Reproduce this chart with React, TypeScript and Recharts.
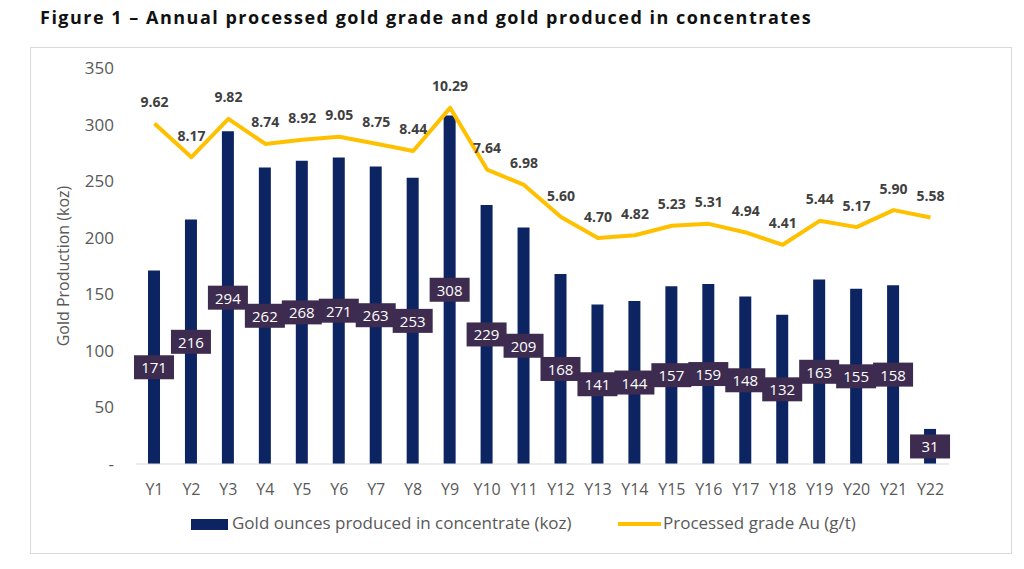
import React from "react";
import {
  ComposedChart,
  Bar,
  Line,
  XAxis,
  YAxis,
  LabelList,
} from "recharts";

const years = [
  "Y1", "Y2", "Y3", "Y4", "Y5", "Y6", "Y7", "Y8", "Y9", "Y10", "Y11",
  "Y12", "Y13", "Y14", "Y15", "Y16", "Y17", "Y18", "Y19", "Y20", "Y21", "Y22",
];
const goldKoz = [
  171, 216, 294, 262, 268, 271, 263, 253, 308, 229, 209,
  168, 141, 144, 157, 159, 148, 132, 163, 155, 158, 31,
];
const gradeAu = [
  9.62, 8.17, 9.82, 8.74, 8.92, 9.05, 8.75, 8.44, 10.29, 7.64, 6.98,
  5.6, 4.7, 4.82, 5.23, 5.31, 4.94, 4.41, 5.44, 5.17, 5.9, 5.58,
];
const kozTicks = [0, 50, 100, 150, 200, 250, 300, 350];

const NAVY = "#0c2461";
const GOLD = "#FFC000";
const FONT = "'Open Sans', sans-serif";

const chartData = years.map((year, i) => ({
  year,
  gold: goldKoz[i],
  grade: gradeAu[i],
}));

const BarValueLabel = (props: any) => {
  const { x, y, width, height, value } = props;
  const cx = x + width / 2;
  const cy = y + height / 2;
  return (
    <g>
      <rect x={cx - 20} y={cy - 12} width={40} height={24} fill="#3d2c4f" />
      <text
        x={cx}
        y={cy}
        fill="#ffffff"
        fontSize={15}
        fontFamily={FONT}
        textAnchor="middle"
        dominantBaseline="central"
      >
        {value}
      </text>
    </g>
  );
};

const GradeLabel = (props: any) => {
  const { x, y, value } = props;
  return (
    <text
      x={x}
      y={y - 22}
      fill="#404040"
      fontSize={14}
      fontWeight={700}
      fontFamily={FONT}
      textAnchor="middle"
      dominantBaseline="central"
    >
      {Number(value).toFixed(2)}
    </text>
  );
};

export default function App() {
  return (
    <div
      style={{
        position: "absolute",
        left: 0,
        top: 0,
        width: 1024,
        height: 569,
        background: "#ffffff",
        fontFamily: FONT,
      }}
    >
      <div
        style={{
          position: "absolute",
          left: 40,
          top: 5,
          fontSize: 18,
          fontWeight: 700,
          letterSpacing: 1.5,
          color: "#111111",
          whiteSpace: "nowrap",
        }}
      >
        Figure 1 – Annual processed gold grade and gold produced in concentrates
      </div>

      <div
        style={{
          position: "absolute",
          left: 30,
          top: 47,
          width: 980,
          height: 505,
          border: "1px solid #d9d9d9",
        }}
      />

      <div style={{ position: "absolute", left: 0, top: 0 }}>
        <ComposedChart
          width={1024}
          height={569}
          data={chartData}
          margin={{ top: 68, right: 75, left: 58, bottom: 75 }}
          barGap={0}
        >
          <XAxis
            dataKey="year"
            stroke="#d9d9d9"
            tickLine={false}
            tickSize={0}
            tickMargin={20}
            interval={0}
            tick={{ fill: "#595959", fontSize: 16, fontFamily: FONT }}
          />
          <YAxis
            yAxisId="koz"
            domain={[0, 350]}
            ticks={kozTicks}
            width={78}
            axisLine={false}
            tickLine={false}
            tickSize={0}
            tickMargin={22}
            tick={{ fill: "#595959", fontSize: 17, fontFamily: FONT }}
            tickFormatter={(v: number) => (v === 0 ? "-" : String(v))}
            label={{
              value: "Gold Production (koz)",
              angle: -90,
              position: "insideLeft",
              offset: 5,
              style: {
                textAnchor: "middle",
                fill: "#595959",
                fontSize: 16,
                fontFamily: FONT,
              },
            }}
          />
          <YAxis
            yAxisId="grade"
            orientation="right"
            domain={[-5, 12]}
            hide
          />
          <Bar
            yAxisId="koz"
            dataKey="gold"
            fill={NAVY}
            barSize={12}
            isAnimationActive={false}
          >
            <LabelList dataKey="gold" content={BarValueLabel} />
          </Bar>
          <Line
            yAxisId="grade"
            type="linear"
            dataKey="grade"
            stroke={GOLD}
            strokeWidth={4}
            strokeLinejoin="round"
            dot={false}
            activeDot={false}
            isAnimationActive={false}
          >
            <LabelList dataKey="grade" content={GradeLabel} />
          </Line>
        </ComposedChart>
      </div>

      <div
        style={{
          position: "absolute",
          left: 191,
          top: 519,
          width: 37,
          height: 11,
          background: NAVY,
        }}
      />
      <div
        style={{
          position: "absolute",
          left: 232,
          top: 511,
          fontSize: 17,
          color: "#595959",
          whiteSpace: "nowrap",
        }}
      >
        Gold ounces produced in concentrate (koz)
      </div>
      <div
        style={{
          position: "absolute",
          left: 618,
          top: 522,
          width: 43,
          height: 4,
          background: GOLD,
        }}
      />
      <div
        style={{
          position: "absolute",
          left: 663,
          top: 511,
          fontSize: 17,
          color: "#595959",
          whiteSpace: "nowrap",
        }}
      >
        Processed grade Au (g/t)
      </div>
    </div>
  );
}
